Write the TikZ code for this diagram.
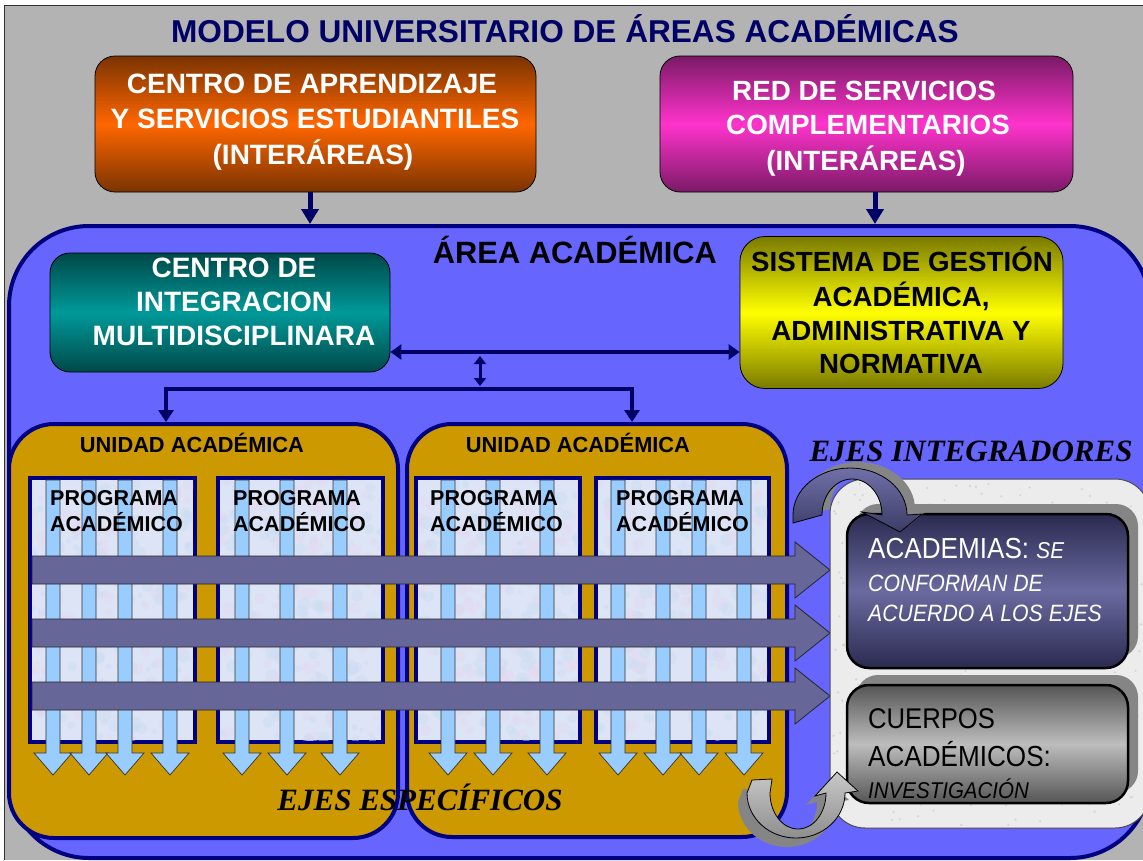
\documentclass[tikz,border=0pt]{standalone}
\usepackage{fontspec}
\setmainfont{Liberation Sans}
\newfontfamily\timesf{Liberation Serif}
\newfontfamily\narrowf[FakeStretch=0.9]{Liberation Sans}
\usetikzlibrary{arrows.meta}
\definecolor{bggray}{HTML}{B3B3B3}
\definecolor{navy}{HTML}{000066}
\definecolor{areablue}{HTML}{6666FF}
\definecolor{areaborder}{HTML}{000080}
\definecolor{gold}{HTML}{CC9900}
\definecolor{panelfill}{HTML}{DCE4F6}
\definecolor{speckpink}{HTML}{E6D8F0}
\definecolor{speckblue}{HTML}{CCDDF2}
\definecolor{varrowfill}{HTML}{99CCFF}
\definecolor{harrowfill}{HTML}{666699}
\definecolor{lightpanel}{HTML}{ECECEC}
\definecolor{speckgray}{HTML}{D4D4D4}
\definecolor{shadowgray}{HTML}{858585}
\definecolor{orangedark}{HTML}{7A3300}
\definecolor{orangemid}{HTML}{FF6600}
\definecolor{magdark}{HTML}{7A1A66}
\definecolor{magmid}{HTML}{FF33CC}
\definecolor{tealdark}{HTML}{004848}
\definecolor{tealmid}{HTML}{009999}
\definecolor{olivedark}{HTML}{7A7A00}
\definecolor{yellowmid}{HTML}{FFFF00}
\definecolor{acadark}{HTML}{2A2A50}
\definecolor{acamid}{HTML}{6A6AA0}
\definecolor{cuerdark}{HTML}{555555}
\definecolor{cuermid}{HTML}{BDBDBD}
\definecolor{curvetop}{HTML}{7070A8}
\definecolor{curvebot}{HTML}{3C3C66}
\definecolor{graytop}{HTML}{C8C8C8}
\definecolor{graybot}{HTML}{8E8E8E}
\begin{document}
\begin{tikzpicture}[x=1pt,y=-1pt,
  lbl/.style={inner sep=0pt, anchor=base},
  lblw/.style={inner sep=0pt, anchor=base west},
  box/.style={draw=black, line width=0.8pt, rounded corners=20pt, inner sep=0pt},
  unitbox/.style={draw=areaborder, line width=4pt, fill=gold, rounded corners=45pt, inner sep=0pt},
  progbox/.style={draw=areaborder, line width=4pt, fill=panelfill, inner sep=0pt, minimum height=264pt},
  toparrow/.style={draw=navy, line width=5pt, -{Triangle[length=15pt,width=17pt]}},
  linkarrow/.style={draw=navy, line width=4pt, {Triangle[length=11pt,width=15pt]}-{Triangle[length=11pt,width=15pt]}},
  smallarrow/.style={draw=navy, line width=3pt, {Triangle[length=8pt,width=12pt]}-{Triangle[length=8pt,width=12pt]}},
  varrowst/.style={draw=black!80, line width=0.7pt, fill=varrowfill},
  harrowst/.style={draw=black!85, line width=0.8pt, fill=harrowfill},
  wtxt/.style={lbl, text=white, font=\fontsize{28}{28}\selectfont\bfseries},
  btxt/.style={lbl, text=black, font=\fontsize{27.7}{27.7}\selectfont\bfseries},
  progtxt/.style={lblw, font=\fontsize{21.5}{21.5}\selectfont\bfseries},
  ejestxt/.style={lbl, font=\timesf\fontsize{31}{31}\selectfont\bfseries\itshape}
]
\useasboundingbox (0,0) rectangle (1143,860);
\fill[white] (0,0) rectangle (1143,860);
\fill[bggray] (4,5) rectangle (1143,860);
\draw[black!80, line width=1pt] (4,860) -- (4,5) -- (1143,5);

% title
\node[lbl, text=navy, font=\fontsize{31.6}{31.6}\selectfont\bfseries] (title) at (565,42.5) {MODELO UNIVERSITARIO DE ÁREAS ACADÉMICAS};

% main academic area
\node[draw=areaborder, line width=4pt, fill=areablue, rounded corners=80pt, minimum width=1141pt, minimum height=632pt, inner sep=0pt] (area) at (579.5,542) {};

% top boxes
\node[box, minimum width=441pt, minimum height=136pt, top color=orangedark, bottom color=orangedark, middle color=orangemid] (cap) at (315.5,124) {};
\node[wtxt] (cap1) at (312,93) {CENTRO DE APRENDIZAJE};
\node[wtxt] (cap2) at (315,128) {Y SERVICIOS ESTUDIANTILES};
\node[wtxt] (cap3) at (313,164) {(INTERÁREAS)};

\node[box, minimum width=413pt, minimum height=136pt, top color=magdark, bottom color=magdark, middle color=magmid] (red) at (866.5,124) {};
\node[wtxt, font=\fontsize{27.8}{27.8}\selectfont\bfseries] (red1) at (864,100) {RED DE SERVICIOS};
\node[wtxt, font=\fontsize{27.8}{27.8}\selectfont\bfseries] (red2) at (868,134) {COMPLEMENTARIOS};
\node[wtxt, font=\fontsize{27.8}{27.8}\selectfont\bfseries] (red3) at (866,170) {(INTERÁREAS)};

\coordinate (a1) at (310,0);
\coordinate (a2) at (875,0);
\draw[toparrow] (cap.south -| a1) -- (a1 |- area.north);
\draw[toparrow] (red.south -| a2) -- (a2 |- area.north);

\node[lbl, font=\fontsize{30.8}{30.8}\selectfont\bfseries] (areat) at (575,263) {ÁREA ACADÉMICA};

% middle boxes
\node[box, minimum width=340pt, minimum height=119pt, top color=tealdark, bottom color=tealdark, middle color=tealmid] (cim) at (220,312.5) {};
\node[wtxt] (cim1) at (234,277) {CENTRO DE};
\node[wtxt] (cim2) at (234,311) {INTEGRACION};
\node[wtxt] (cim3) at (234,345) {MULTIDISCIPLINARA};

\node[box, rounded corners=25pt, minimum width=323pt, minimum height=152pt, top color=olivedark, bottom color=olivedark, middle color=yellowmid] (sga) at (901.5,312.5) {};
\node[btxt] (sga1) at (902,271) {SISTEMA DE GESTIÓN};
\node[btxt] (sga2) at (901,306) {ACADÉMICA,};
\node[btxt] (sga3) at (901,340) {ADMINISTRATIVA Y};
\node[btxt] (sga4) at (901,373) {NORMATIVA};

% academic units
\node[unitbox, minimum width=389pt, minimum height=414pt] (u1) at (203.5,631) {};
\node[unitbox, minimum width=380pt, minimum height=413pt] (u2) at (597,630.5) {};

% connectors
\coordinate (j0) at (480,352);
\coordinate (j1) at (480,356);
\coordinate (j2) at (480,386);
\coordinate (k1) at (166,389);
\coordinate (k2) at (632,389);
\draw[linkarrow] (cim.east |- j0) -- (sga.west |- j0);
\draw[smallarrow] (j1) -- (j2);
\draw[draw=navy, line width=4pt, {Triangle[length=12pt,width=15pt]}-{Triangle[length=12pt,width=15pt]}] (k1 |- u1.north) -- (k1) -- (k2) -- (k2 |- u2.north);

\node[lbl, font=\fontsize{21.8}{21.8}\selectfont\bfseries] (u1t) at (192,452) {UNIDAD ACADÉMICA};
\node[lbl, font=\fontsize{21.8}{21.8}\selectfont\bfseries] (u2t) at (578,452) {UNIDAD ACADÉMICA};

% program panels
\node[progbox, minimum width=165pt] (pA) at (112.5,610) {};
\node[progbox, minimum width=165pt] (pB) at (300.5,610) {};
\node[progbox, minimum width=164pt] (pC) at (498,610) {};
\node[progbox, minimum width=173pt] (pD) at (682.5,610) {};

% mottled texture of the panels
\pgfmathsetseed{7}
\foreach \xa/\xb in {32/193,220/381,418/578,598/767}{
  \begin{scope}
  \clip (\xa,480) rectangle (\xb,740);
  \foreach \i in {1,...,140}{
    \pgfmathsetmacro{\px}{\xa+rnd*(\xb-\xa)}
    \pgfmathsetmacro{\py}{480+rnd*260}
    \pgfmathsetmacro{\pr}{2+rnd*5}
    \fill[speckpink, opacity=0.45] (\px,\py) circle[radius=\pr];
    \pgfmathsetmacro{\qx}{\xa+rnd*(\xb-\xa)}
    \pgfmathsetmacro{\qy}{480+rnd*260}
    \fill[speckblue, opacity=0.45] (\qx,\qy) circle[radius=\pr];
  }
  \end{scope}
}

% vertical arrows (ejes especificos)
\foreach \c in {53,89,125,170,242,287,340,448,493,547,618,663,699,744}{
  \draw[varrowst] ({\c-7},480) -- ({\c+7},480) -- ({\c+7},753) -- ({\c+19},753) -- (\c,775) -- ({\c-19},753) -- ({\c-7},753) -- cycle;
}

\foreach \x/\n in {50/A,233/B,430/C,616/D}{
  \node[progtxt] (pr\n1) at (\x,505) {PROGRAMA};
  \node[progtxt] (pr\n2) at (\x,531) {ACADÉMICO};
}

% horizontal arrows
\foreach \c in {570,633,696}{
  \draw[harrowst] (32,{\c-14}) -- (795,{\c-14}) -- (795,{\c-28}) -- (830,\c) -- (795,{\c+28}) -- (795,{\c+14}) -- (32,{\c+14}) -- cycle;
}

% right panel
\node[draw=black!70, line width=1pt, fill=lightpanel, rounded corners=35pt, minimum width=320pt, minimum height=349pt, inner sep=0pt] (ejes) at (990,653.5) {};
\begin{scope}
\clip[rounded corners=35pt] (831,480) rectangle (1150,827);
\foreach \i in {1,...,260}{
  \pgfmathsetmacro{\px}{832+rnd*312}
  \pgfmathsetmacro{\py}{482+rnd*344}
  \fill[speckgray] (\px,\py) circle[radius=1.2];
}
\end{scope}

\fill[shadowgray, rounded corners=22pt] (856,504) rectangle (1138,658);
\node[draw=black, line width=2.5pt, rounded corners=22pt, minimum width=281pt, minimum height=154pt, inner sep=0pt, top color=acadark, bottom color=acadark, middle color=acamid] (acad) at (987.5,591) {};
\fill[shadowgray, rounded corners=22pt] (856,675) rectangle (1138,793);
\node[draw=black, line width=2.5pt, rounded corners=22pt, minimum width=281pt, minimum height=118pt, inner sep=0pt, top color=cuerdark, bottom color=cuerdark, middle color=cuermid] (cuer) at (987.5,744) {};

\node[lblw, text=white, font=\narrowf\fontsize{29}{29}\selectfont] (ac1) at (868,558) {ACADEMIAS: {\fontsize{23}{23}\selectfont\itshape SE}};
\node[lblw, text=white, font=\narrowf\fontsize{23.6}{23.6}\selectfont\itshape] (ac2) at (868,591) {CONFORMAN DE};
\node[lblw, text=white, font=\narrowf\fontsize{23.6}{23.6}\selectfont\itshape] (ac3) at (868,621) {ACUERDO A LOS EJES};
\node[lblw, font=\narrowf\fontsize{28.5}{28.5}\selectfont] (cu1) at (868,728) {CUERPOS};
\node[lblw, font=\narrowf\fontsize{29}{29}\selectfont] (cu2) at (868,766) {ACADÉMICOS:};
\node[lblw, font=\narrowf\fontsize{22.8}{22.8}\selectfont\itshape] (cu3) at (868,798) {INVESTIGACIÓN};

% curved arrow top (shadow + arrow)
\begin{scope}[shift={(8,-6)}]
\fill[shadowgray] (793,523) -- (793,515) arc[start angle=180, end angle=360, x radius=57, y radius=47] -- (922,514) -- (900,532) -- (862,512) -- (882,515) arc[start angle=360, end angle=180, x radius=30, y radius=36] -- cycle;
\end{scope}
\path[draw=black, line width=0.8pt, top color=curvetop, bottom color=curvebot] (793,523) -- (793,515) arc[start angle=180, end angle=360, x radius=57, y radius=47] -- (922,514) -- (900,532) -- (862,512) -- (882,515) arc[start angle=360, end angle=180, x radius=30, y radius=36] -- cycle;

% curved arrow bottom (shadow + arrow)
\begin{scope}[shift={(-9,9)}]
\fill[shadowgray] (752,780) -- (747,793) arc[start angle=180, end angle=0, x radius=49, y radius=45] -- (858,791) -- (837,772) -- (815,796) -- (826,793) arc[start angle=0, end angle=180, x radius=28, y radius=36] -- (772,779) -- cycle;
\end{scope}
\path[draw=black, line width=0.8pt, top color=graytop, bottom color=graybot] (752,780) -- (747,793) arc[start angle=180, end angle=0, x radius=49, y radius=45] -- (858,791) -- (837,772) -- (815,796) -- (826,793) arc[start angle=0, end angle=180, x radius=28, y radius=36] -- (772,779) -- cycle;

% axis labels
\node[ejestxt] (ee) at (420,810) {EJES ESPECÍFICOS};
\node[ejestxt] (ei) at (971,461) {EJES INTEGRADORES};
\end{tikzpicture}
\end{document}
